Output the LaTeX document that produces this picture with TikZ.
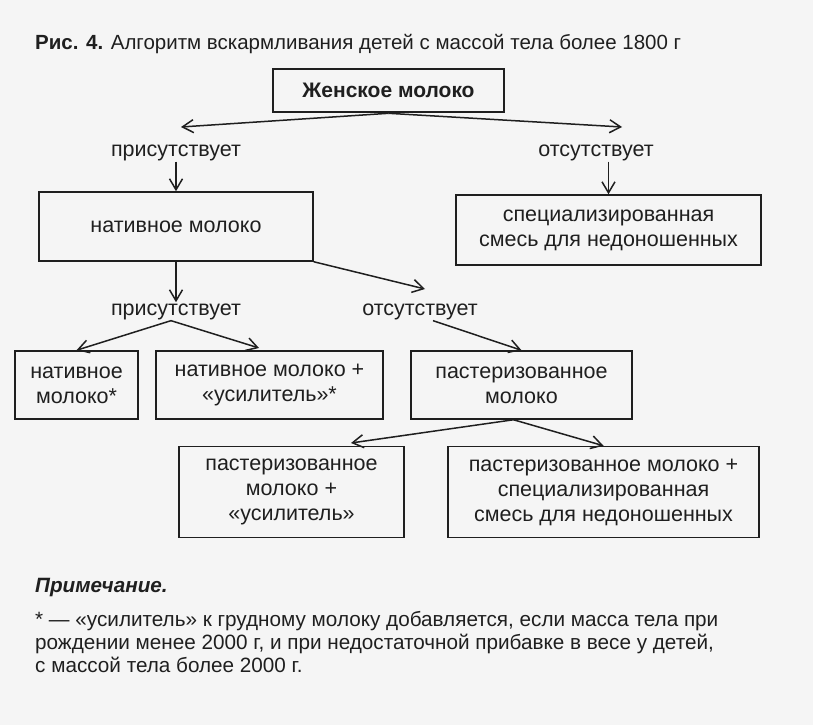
\documentclass[tikz,border=0pt]{standalone}
\usepackage{fontspec}
\setmainfont{Liberation Sans}
\usetikzlibrary{arrows.meta}

\tikzset{
  box/.style={draw, line width=1.5pt, align=center, inner sep=0pt},
  lbl/.style={inner sep=1pt, anchor=base},
  arr/.style={-{Straight Barb[length=11pt,width=13pt]}, line width=1.5pt},
}

\begin{document}
\begin{tikzpicture}[x=1pt,y=-1pt, font=\fontsize{21.5}{25}\selectfont, color=black!88]
  \useasboundingbox (0,0) rectangle (813,725);
  \fill[black!4] (0,0) rectangle (813,725);

  % caption
  \node[anchor=base west, inner sep=0pt, font=\fontsize{20.5}{24}\selectfont] (caption) at (35,50)
    {\bfseries Рис. 4.\mdseries{} Алгоритм вскармливания детей с массой тела более 1800 г};

  % boxes
  \node[box, line width=2.6pt, minimum width=231pt, minimum height=43pt, font=\fontsize{21}{24}\selectfont\bfseries]
    (milk) at (388.5,90.5) {Женское молоко};
  \node[box, minimum width=274pt, minimum height=69pt] (native) at (176,226.5) {нативное молоко};
  \node[box, minimum width=305pt, minimum height=70pt] (spec) at (608.5,230)
    {специализированная\\смесь для недоношенных};
  \node[box, minimum width=123pt, minimum height=68pt] (natstar) at (76.5,385) {нативное\\молоко*};
  \node[box, minimum width=227pt, minimum height=68pt] (natplus) at (269.5,385)
    {нативное молоко +\\«усилитель»*};
  \node[box, minimum width=221pt, minimum height=68pt] (past) at (521.5,385) {пастеризованное\\молоко};
  \node[box, minimum width=225pt, minimum height=91pt] (pastplus) at (291.5,492)
    {пастеризованное\\молоко +\\«усилитель»};
  \node[box, minimum width=311pt, minimum height=91pt] (pastspec) at (603.5,492)
    {пастеризованное молоко +\\специализированная\\смесь для недоношенных};

  % labels
  \node[lbl] (yes1) at (176,156) {присутствует};
  \node[lbl] (no1) at (596,156) {отсутствует};
  \node[lbl] (yes2) at (176,315) {присутствует};
  \node[lbl] (no2) at (420,315) {отсутствует};

  \coordinate (t1) at (181,127);
  \coordinate (t2) at (622,127);
  \coordinate (n2) at (425,289);
  \coordinate (y2) at (259,348);
  \coordinate (p1) at (351,443);

  % connectors
  \draw[arr] (milk.south) -- (t1);
  \draw[arr] (milk.south) -- (t2);
  \draw[arr] (yes1.south) -- (native.north);
  \draw[arr] (spec.north |- no1.south) -- (spec.north);
  \draw[arr] (native.south) -- (yes2.north);
  \draw[arr] (native.south east) -- (n2);
  \draw[arr] ([xshift=-5pt]yes2.south) -- (natstar.north);
  \draw[arr] ([xshift=-5pt]yes2.south) -- (y2);
  \draw[arr] ([xshift=13pt]no2.south) -- (past.north);
  \draw[arr] ([xshift=-8pt]past.south) -- (p1);
  \draw[arr] ([xshift=-8pt]past.south) -- (pastspec.north);

  % note
  \node[anchor=base west, inner sep=0pt, font=\fontsize{20.7}{24}\selectfont\bfseries\itshape] (notehead) at (35,592)
    {Примечание.};
  \node[anchor=base west, inner sep=0pt, font=\fontsize{20.7}{22}\selectfont] (note1) at (35,626)
    {* — «усилитель» к грудному молоку добавляется, если масса тела при};
  \node[anchor=base west, inner sep=0pt, font=\fontsize{20.7}{22}\selectfont] (note2) at (35,649)
    {рождении менее 2000 г, и при недостаточной прибавке в весе у детей,};
  \node[anchor=base west, inner sep=0pt, font=\fontsize{20.7}{22}\selectfont] (note3) at (35,672)
    {с массой тела более 2000 г.};
\end{tikzpicture}
\end{document}
